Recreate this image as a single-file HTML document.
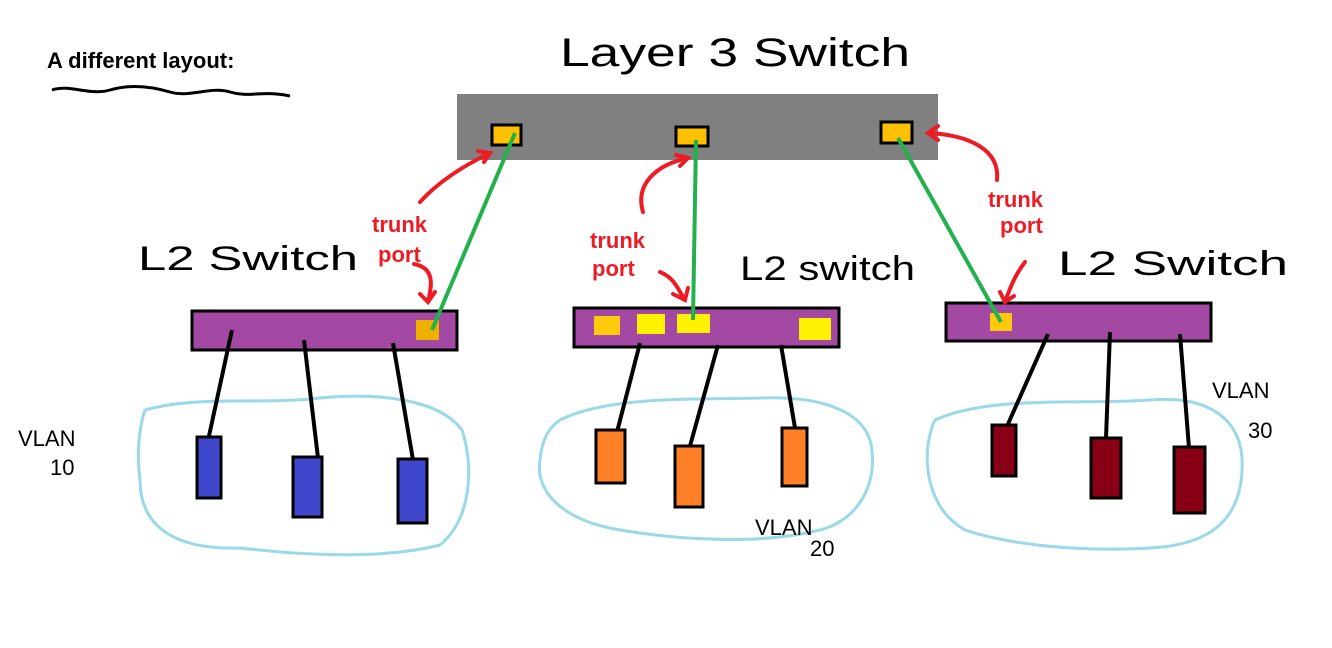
<!DOCTYPE html>
<html><head><meta charset="utf-8"><style>
html,body{margin:0;padding:0;background:#fff;width:1332px;height:648px;overflow:hidden}
svg{display:block}
.hw{font-family:"Comic Sans MS","Liberation Sans",sans-serif}
</style></head><body>
<svg width="1332" height="648" viewBox="0 0 1332 648" xmlns="http://www.w3.org/2000/svg">
<text x="47" y="68" font-family="Liberation Sans, sans-serif" font-weight="bold" font-size="22" fill="#000">A different layout:</text>
<path d="M52 90 C70 84,90 96,110 90 S150 86,170 92 S210 86,230 92 S260 90,290 96" stroke="#000" stroke-width="3" fill="none"/>
<text x="560" y="66" font-family="Liberation Sans, sans-serif" font-size="40" fill="#000" textLength="350" lengthAdjust="spacingAndGlyphs">Layer 3 Switch</text>
<rect x="457" y="94" width="481" height="66" fill="#808080"/>
<rect x="492" y="125" width="29" height="20" fill="#ffc000" stroke="#000" stroke-width="3"/>
<rect x="676" y="127" width="32" height="19" fill="#ffc000" stroke="#000" stroke-width="3"/>
<rect x="881" y="122" width="31" height="21" fill="#ffc000" stroke="#000" stroke-width="3"/>
<!-- clouds -->
<g stroke="#99d9ea" stroke-width="3" fill="none">
<path d="M145 410 C200 395,260 405,320 398 C380 392,440 400,462 430 C475 470,470 520,440 545 C380 560,300 555,240 548 C180 550,140 530,140 480 C136 450,140 425,145 410 Z"/>
<path d="M560 420 C610 395,700 400,760 398 C820 396,860 410,870 440 C880 480,860 520,820 530 C760 545,680 540,620 530 C560 520,535 490,540 460 C542 440,548 428,560 420 Z"/>
<path d="M935 420 C990 395,1080 405,1150 400 C1210 395,1245 420,1242 470 C1240 520,1210 545,1150 548 C1080 552,1010 545,965 530 C930 510,925 470,928 445 C930 432,932 425,935 420 Z"/>
</g>
<!-- L2 switches -->
<rect x="192" y="311" width="265" height="39" fill="#a349a4" stroke="#000" stroke-width="3"/>
<rect x="416" y="320" width="23" height="20" fill="#f0b000"/>
<rect x="574" y="308" width="265" height="39" fill="#a349a4" stroke="#000" stroke-width="3"/>
<rect x="594" y="316" width="26" height="19" fill="#ffc90e"/>
<rect x="637" y="314" width="28" height="20" fill="#fff200"/>
<rect x="677" y="314" width="33" height="19" fill="#fff200"/>
<rect x="799" y="318" width="32" height="22" fill="#fff200"/>
<rect x="946" y="303" width="265" height="38" fill="#a349a4" stroke="#000" stroke-width="3"/>
<rect x="990" y="313" width="22" height="18" fill="#ffc90e"/>
<!-- green trunk lines -->
<g stroke="#22b14c" stroke-width="4">
<line x1="432" y1="330" x2="515" y2="133"/>
<line x1="693" y1="320" x2="696" y2="140"/>
<line x1="1001" y1="322" x2="898" y2="138"/>
</g>
<!-- host lines -->
<g stroke="#000" stroke-width="4">
<line x1="232" y1="330" x2="209" y2="436"/>
<line x1="304" y1="340" x2="318" y2="458"/>
<line x1="393" y1="343" x2="413" y2="460"/>
<line x1="640" y1="343" x2="617" y2="432"/>
<line x1="718" y1="345" x2="690" y2="446"/>
<line x1="781" y1="345" x2="795" y2="428"/>
<line x1="1048" y1="334" x2="1008" y2="424"/>
<line x1="1110" y1="332" x2="1106" y2="438"/>
<line x1="1180" y1="334" x2="1189" y2="448"/>
</g>
<g stroke="#000" stroke-width="3">
<rect x="197" y="437" width="24" height="61" fill="#3f48cc"/>
<rect x="293" y="457" width="29" height="60" fill="#3f48cc"/>
<rect x="398" y="459" width="29" height="64" fill="#3f48cc"/>
<rect x="596" y="430" width="29" height="53" fill="#ff7f27"/>
<rect x="675" y="446" width="28" height="61" fill="#ff7f27"/>
<rect x="782" y="428" width="25" height="58" fill="#ff7f27"/>
<rect x="992" y="425" width="24" height="51" fill="#880015"/>
<rect x="1091" y="438" width="30" height="60" fill="#880015"/>
<rect x="1174" y="447" width="31" height="66" fill="#880015"/>
</g>
<!-- red arrows -->
<g stroke="#ed1c24" stroke-width="4" fill="none" stroke-linecap="round">
<path d="M420 202 C440 180,465 165,490 153"/><path d="M478 151 L490 153 L484 162"/>
<path d="M643 212 C635 185,655 165,688 158"/><path d="M676 155 L688 158 L680 166"/>
<path d="M997 180 C1000 150,970 135,928 133"/><path d="M938 126 L928 133 L938 140"/>
<path d="M414 264 C435 268,432 285,428 302"/><path d="M420 294 L428 302 L435 292"/>
<path d="M660 272 C675 278,678 290,685 300"/><path d="M673 294 L685 300 L688 288"/>
<path d="M1025 262 C1015 275,1010 288,1005 302"/><path d="M1000 292 L1005 302 L1014 296"/>
</g>
<g font-family="Liberation Sans, sans-serif" font-size="22" fill="#ed1c24" font-weight="bold">
<text x="372" y="232">trunk</text><text x="378" y="262">port</text>
<text x="590" y="248">trunk</text><text x="592" y="276">port</text>
<text x="988" y="207">trunk</text><text x="1000" y="233">port</text>
</g>
<g font-family="Liberation Sans, sans-serif" font-size="34" fill="#000">
<text x="138" y="270" textLength="220" lengthAdjust="spacingAndGlyphs">L2 Switch</text>
<text x="740" y="280" textLength="175" lengthAdjust="spacingAndGlyphs">L2 switch</text>
<text x="1058" y="275" textLength="230" lengthAdjust="spacingAndGlyphs">L2 Switch</text>
</g>
<g font-family="Liberation Sans, sans-serif" font-size="22" fill="#000">
<text x="18" y="446">VLAN</text><text x="50" y="475">10</text>
<text x="755" y="535">VLAN</text><text x="810" y="556">20</text>
<text x="1212" y="398">VLAN</text><text x="1248" y="438">30</text>
</g>
</svg>
</body></html>
